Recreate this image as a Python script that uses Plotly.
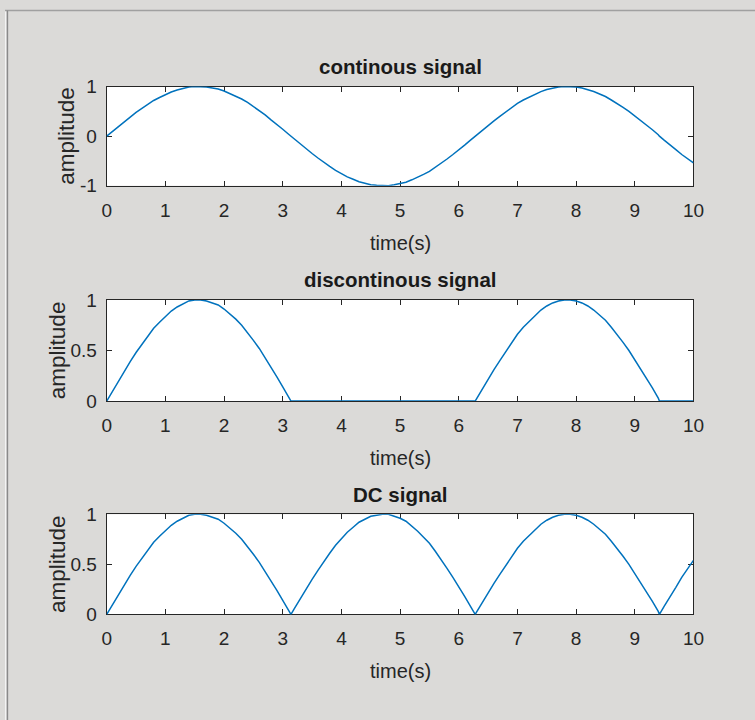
import plotly.graph_objects as go

# time samples (s)
t = [0.0, 0.1, 0.2, 0.3, 0.4, 0.5, 0.6, 0.7, 0.8, 0.9,
     1.0, 1.1, 1.2, 1.3, 1.4, 1.5, 1.6, 1.7, 1.8, 1.9,
     2.0, 2.1, 2.2, 2.3, 2.4, 2.5, 2.6, 2.7, 2.8, 2.9,
     3.0, 3.1, 3.14, 3.2, 3.3, 3.4, 3.5, 3.6, 3.7, 3.8, 3.9,
     4.0, 4.1, 4.2, 4.3, 4.4, 4.5, 4.6, 4.7, 4.8, 4.9,
     5.0, 5.1, 5.2, 5.3, 5.4, 5.5, 5.6, 5.7, 5.8, 5.9,
     6.0, 6.1, 6.2, 6.28, 6.3, 6.4, 6.5, 6.6, 6.7, 6.8, 6.9,
     7.0, 7.1, 7.2, 7.3, 7.4, 7.5, 7.6, 7.7, 7.8, 7.9,
     8.0, 8.1, 8.2, 8.3, 8.4, 8.5, 8.6, 8.7, 8.8, 8.9,
     9.0, 9.1, 9.2, 9.3, 9.4, 9.42, 9.5, 9.6, 9.7, 9.8, 9.9, 10.0]

continuous = [0.00, 0.10, 0.20, 0.30, 0.39, 0.48, 0.56, 0.64, 0.72, 0.78,
              0.84, 0.89, 0.93, 0.96, 0.99, 1.00, 1.00, 0.99, 0.97, 0.95,
              0.91, 0.86, 0.81, 0.75, 0.68, 0.60, 0.52, 0.43, 0.33, 0.24,
              0.14, 0.04, 0.00, -0.06, -0.16, -0.26, -0.35, -0.44, -0.53, -0.61, -0.69,
              -0.76, -0.82, -0.87, -0.92, -0.95, -0.98, -0.99, -1.00, -1.00, -0.98,
              -0.96, -0.93, -0.88, -0.83, -0.77, -0.71, -0.63, -0.55, -0.46, -0.37,
              -0.28, -0.18, -0.08, 0.00, 0.02, 0.12, 0.22, 0.31, 0.40, 0.49, 0.58,
              0.66, 0.73, 0.79, 0.85, 0.90, 0.94, 0.97, 0.99, 1.00, 1.00,
              0.99, 0.97, 0.94, 0.90, 0.85, 0.80, 0.73, 0.66, 0.58, 0.50,
              0.41, 0.32, 0.22, 0.13, 0.03, 0.00, -0.08, -0.17, -0.27, -0.37, -0.46, -0.54]

discontinuous = [0.00, 0.10, 0.20, 0.30, 0.39, 0.48, 0.56, 0.64, 0.72, 0.78,
                 0.84, 0.89, 0.93, 0.96, 0.99, 1.00, 1.00, 0.99, 0.97, 0.95,
                 0.91, 0.86, 0.81, 0.75, 0.68, 0.60, 0.52, 0.43, 0.33, 0.24,
                 0.14, 0.04, 0.00, 0.00, 0.00, 0.00, 0.00, 0.00, 0.00, 0.00, 0.00,
                 0.00, 0.00, 0.00, 0.00, 0.00, 0.00, 0.00, 0.00, 0.00, 0.00,
                 0.00, 0.00, 0.00, 0.00, 0.00, 0.00, 0.00, 0.00, 0.00, 0.00,
                 0.00, 0.00, 0.00, 0.00, 0.02, 0.12, 0.22, 0.31, 0.40, 0.49, 0.58,
                 0.66, 0.73, 0.79, 0.85, 0.90, 0.94, 0.97, 0.99, 1.00, 1.00,
                 0.99, 0.97, 0.94, 0.90, 0.85, 0.80, 0.73, 0.66, 0.58, 0.50,
                 0.41, 0.32, 0.22, 0.13, 0.03, 0.00, 0.00, 0.00, 0.00, 0.00, 0.00, 0.00]

dc = [0.00, 0.10, 0.20, 0.30, 0.39, 0.48, 0.56, 0.64, 0.72, 0.78,
      0.84, 0.89, 0.93, 0.96, 0.99, 1.00, 1.00, 0.99, 0.97, 0.95,
      0.91, 0.86, 0.81, 0.75, 0.68, 0.60, 0.52, 0.43, 0.33, 0.24,
      0.14, 0.04, 0.00, 0.06, 0.16, 0.26, 0.35, 0.44, 0.53, 0.61, 0.69,
      0.76, 0.82, 0.87, 0.92, 0.95, 0.98, 0.99, 1.00, 1.00, 0.98,
      0.96, 0.93, 0.88, 0.83, 0.77, 0.71, 0.63, 0.55, 0.46, 0.37,
      0.28, 0.18, 0.08, 0.00, 0.02, 0.12, 0.22, 0.31, 0.40, 0.49, 0.58,
      0.66, 0.73, 0.79, 0.85, 0.90, 0.94, 0.97, 0.99, 1.00, 1.00,
      0.99, 0.97, 0.94, 0.90, 0.85, 0.80, 0.73, 0.66, 0.58, 0.50,
      0.41, 0.32, 0.22, 0.13, 0.03, 0.00, 0.08, 0.17, 0.27, 0.37, 0.46, 0.54]

titles = ["continous signal", "discontinous signal", "DC signal"]
x_label = "time(s)"
y_label = "amplitude"
x_ticks = [0, 1, 2, 3, 4, 5, 6, 7, 8, 9, 10]
y_ticks_1 = [-1, 0, 1]
y_ticks_23 = [0, 0.5, 1]

W, H = 770, 735
BG = "#dbdad8"
LINE = "#0072bd"
AX = "#262626"
FONT = "Liberation Sans, Arial, Helvetica, sans-serif"

# the page is shown slightly scaled / offset; map target screen pixels to figure pixels
SX, SY, OX, OY = 0.978, 0.970, 5.4, 10.5

def px(x):
    return ((x - OX) / SX) / W

def py(y):
    return 1 - ((y - OY) / SY) / H

x_dom = [px(107), px(693)]
panels = [
    dict(top=87, bot=186, y=continuous, yr=[-1, 1], yt=y_ticks_1, yl=["-1", "0", "1"], ylx=67),
    dict(top=300, bot=401, y=discontinuous, yr=[0, 1], yt=y_ticks_23, yl=["0", "0.5", "1"], ylx=58),
    dict(top=514, bot=614, y=dc, yr=[0, 1], yt=y_ticks_23, yl=["0", "0.5", "1"], ylx=58),
]

fig = go.Figure()
annotations = []
for i, p in enumerate(panels):
    n = "" if i == 0 else str(i + 1)
    fig.add_trace(go.Scatter(x=t, y=p["y"], mode="lines",
                             line=dict(color=LINE, width=1.5),
                             xaxis="x" + n, yaxis="y" + n, showlegend=False,
                             hoverinfo="skip"))
    common = dict(showline=True, linecolor=AX, linewidth=1, mirror="ticks",
                  ticks="inside", ticklen=5, tickcolor=AX, tickwidth=1,
                  showgrid=False, zeroline=False, layer="below traces",
                  tickfont=dict(family=FONT, size=19, color=AX), fixedrange=True)
    fig.layout["xaxis" + n] = dict(domain=x_dom, range=[0, 10], tickvals=x_ticks,
                                   anchor="y" + n, ticklabelstandoff=7, **common)
    fig.layout["yaxis" + n] = dict(domain=[py(p["bot"]), py(p["top"])], range=p["yr"],
                                   tickvals=p["yt"], ticktext=p["yl"],
                                   anchor="x" + n, ticklabelstandoff=5, **common)
    annotations.append(dict(text="<b>" + titles[i] + "</b>", x=px(400), y=py(p["top"] - 20),
                            xref="paper", yref="paper", showarrow=False,
                            xanchor="center", yanchor="middle",
                            font=dict(family=FONT, size=20.5, color="#1a1a1a")))
    annotations.append(dict(text=x_label, x=px(400), y=py(p["bot"] + 57),
                            xref="paper", yref="paper", showarrow=False,
                            xanchor="center", yanchor="middle",
                            font=dict(family=FONT, size=20, color=AX)))
    annotations.append(dict(text=y_label, x=px(p["ylx"]), y=py((p["top"] + p["bot"]) / 2),
                            xref="paper", yref="paper", showarrow=False, textangle=-90,
                            xanchor="center", yanchor="middle",
                            font=dict(family=FONT, size=22.5, color=AX)))

shapes = [
    dict(type="line", xref="paper", yref="paper", x0=0, x1=1, y0=py(11), y1=py(11),
         line=dict(color="#a0a0a0", width=1.5)),
    dict(type="rect", xref="paper", yref="paper", x0=0, x1=px(7), y0=0, y1=py(11),
         fillcolor="#f4f4f4", line=dict(width=0), layer="below"),
    dict(type="line", xref="paper", yref="paper", x0=px(7.8), x1=px(7.8), y0=0, y1=py(11),
         line=dict(color="#8a8a8a", width=1.5)),
]

fig.update_layout(width=W, height=H, margin=dict(l=0, r=0, t=0, b=0),
                  paper_bgcolor=BG, plot_bgcolor="white",
                  annotations=annotations, shapes=shapes, showlegend=False)

pin_script = (
    "var d=document.getElementById('{plot_id}');"
    "d.style.position='fixed';d.style.left='0px';d.style.top='0px';"
    "document.documentElement.style.margin='0';document.body.style.margin='0';"
    "document.documentElement.style.overflow='hidden';document.body.style.overflow='hidden';"
)

fig.write_html("out.html", config={"displayModeBar": False}, post_script=pin_script)
